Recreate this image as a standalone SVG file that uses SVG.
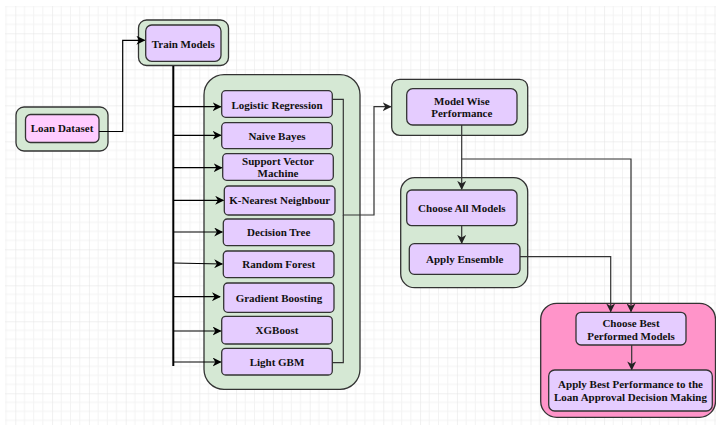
<svg xmlns="http://www.w3.org/2000/svg" width="716" height="425" viewBox="0 0 716 425">
<style>
.g{fill:#d5e8d4;stroke:#333;stroke-width:1.3}
.p{fill:#e5ccff;stroke:#333;stroke-width:1.3}
.k{fill:#ffccff;stroke:#333;stroke-width:1.3}
.m{fill:#ff94c9;stroke:#333;stroke-width:1.3}
text{font-family:"Liberation Serif","Times New Roman",serif;font-weight:bold;font-size:11px;fill:#111;text-anchor:middle}
.cb{fill:none;stroke:#000;stroke-width:1.2}
.cg{fill:none;stroke:#333;stroke-width:1.2}
</style>
<defs>
<pattern id="grid" patternUnits="userSpaceOnUse" x="15.3" y="33.3" width="36.8" height="36">
<path d="M9.2,0V36M18.4,0V36M27.6,0V36M0,9H36.8M0,18H36.8M0,27H36.8" stroke="#f3f3f3" stroke-width="1" fill="none"/>
<path d="M0,0V36M0,0H36.8" stroke="#e2e2e2" stroke-width="1" fill="none"/>
</pattern>
<marker id="ab" viewBox="0 0 10 10" refX="9" refY="5" markerWidth="9" markerHeight="9" markerUnits="userSpaceOnUse" orient="auto">
<path d="M0,0L10,5L0,10L3,5Z" fill="#000"/>
</marker>
<marker id="ag" viewBox="0 0 10 10" refX="9" refY="5" markerWidth="9" markerHeight="9" markerUnits="userSpaceOnUse" orient="auto">
<path d="M0,0L10,5L0,10L3,5Z" fill="#222"/>
</marker>
</defs>
<rect width="716" height="425" fill="#fff"/>
<rect x="5" y="6" width="711" height="419" fill="url(#grid)"/>

<g id="containers">
<rect class="g" x="204" y="74.7" width="156" height="314.6" rx="20"/>
<rect class="g" x="400.7" y="177.7" width="127" height="110" rx="14"/>
<rect class="m" x="540.7" y="303.3" width="174.8" height="114" rx="16"/>
</g>

<g id="loan-dataset">
<rect class="g" x="16" y="107" width="92" height="44" rx="8"/>
<rect class="k" x="25.5" y="114.5" width="73.5" height="28" rx="5"/>
<text x="62" y="132.3">Loan Dataset</text>
</g>
<g id="train-models">
<rect class="g" x="138.5" y="20" width="90" height="45.5" rx="8"/>
<rect class="p" x="145.7" y="25" width="75.3" height="36.3" rx="6"/>
<text x="183.3" y="47.7">Train Models</text>
</g>
<g id="logistic-regression">
<rect class="p" x="221.7" y="90.7" width="110.6" height="26.6" rx="4"/>
<text x="277" y="108.7">Logistic Regression</text>
</g>
<g id="naive-bayes">
<rect class="p" x="221.7" y="122.7" width="110.6" height="26" rx="4"/>
<text x="277" y="139.7">Naive Bayes</text>
</g>
<g id="svm">
<rect class="p" x="222.7" y="153.7" width="110.6" height="26.6" rx="4"/>
<text x="278" y="165.3">Support Vector</text>
<text x="278" y="177.3">Machine</text>
</g>
<g id="knn">
<rect class="p" x="224.3" y="186" width="110.7" height="29" rx="4"/>
<text x="279.7" y="204.3">K-Nearest Neighbour</text>
</g>
<g id="decision-tree">
<rect class="p" x="223.3" y="219" width="110.7" height="26.7" rx="4"/>
<text x="278.7" y="236">Decision Tree</text>
</g>
<g id="random-forest">
<rect class="p" x="223.3" y="251" width="110.7" height="26.7" rx="4"/>
<text x="278.7" y="268.3">Random Forest</text>
</g>
<g id="gradient-boosting">
<rect class="p" x="223.7" y="283" width="110.3" height="29.3" rx="4"/>
<text x="278.9" y="301.7">Gradient Boosting</text>
</g>
<g id="xgboost">
<rect class="p" x="221.7" y="316.3" width="110.6" height="27.7" rx="4"/>
<text x="277" y="334">XGBoost</text>
</g>
<g id="light-gbm">
<rect class="p" x="221.7" y="348.3" width="110.6" height="26.7" rx="4"/>
<text x="277" y="366">Light GBM</text>
</g>
<g id="model-wise-performance">
<rect class="g" x="391.7" y="79.3" width="136" height="56" rx="8"/>
<rect class="p" x="406.7" y="88.7" width="110.3" height="36.3" rx="6"/>
<text x="461.8" y="105">Model Wise</text>
<text x="461.8" y="117.3">Performance</text>
</g>
<g id="choose-all-models">
<rect class="p" x="406.7" y="190" width="110.3" height="35.7" rx="5"/>
<text x="461.8" y="211.7">Choose All Models</text>
</g>
<g id="apply-ensemble">
<rect class="p" x="409.3" y="243.7" width="110.7" height="30.6" rx="5"/>
<text x="464.7" y="263.3">Apply Ensemble</text>
</g>
<g id="choose-best">
<rect class="p" x="576" y="312.3" width="110" height="32.7" rx="5"/>
<text x="631" y="326.7">Choose Best</text>
<text x="631" y="340">Performed Models</text>
</g>
<g id="apply-best">
<rect class="p" x="548.7" y="370" width="163.6" height="41" rx="6"/>
<text x="630.5" y="388.3">Apply Best Performance to the</text>
<text x="630.5" y="401.3">Loan Approval Decision Making</text>
</g>

<g id="connectors">
<path class="cb" d="M99,131.5H122.7V40.3H144.5" marker-end="url(#ab)"/>
<path d="M173.3,66V366" stroke="#000" stroke-width="2" fill="none"/>
<path class="cb" d="M173.3,106.7H220.7" marker-end="url(#ab)"/>
<path class="cb" d="M173.3,135.3H220.7" marker-end="url(#ab)"/>
<path class="cb" d="M173.3,167.7H221.7" marker-end="url(#ab)"/>
<path class="cb" d="M173.3,200.3H223.3" marker-end="url(#ab)"/>
<path class="cb" d="M173.3,232H222.3" marker-end="url(#ab)"/>
<path class="cb" d="M173.3,263L222.3,264" marker-end="url(#ab)"/>
<path class="cb" d="M173.3,296.7H220" marker-end="url(#ab)"/>
<path class="cb" d="M173.3,331H220.7" marker-end="url(#ab)"/>
<path class="cb" d="M173.3,362H220.7" marker-end="url(#ab)"/>
<path class="cg" d="M332.3,99.3H343.3V215H374V106.7H390.7" marker-end="url(#ag)"/>
<path class="cg" d="M332.3,362.7H343.3V215"/>
<path class="cg" d="M461.7,125V189" marker-end="url(#ag)"/>
<path class="cg" d="M461.7,159H631V311.5" marker-end="url(#ag)"/>
<path class="cg" d="M461.7,225.7V243" marker-end="url(#ag)"/>
<path class="cg" d="M520,256.7H610.7V311.5" marker-end="url(#ag)"/>
<path class="cg" d="M631.7,345V369.5" marker-end="url(#ag)"/>
</g>
</svg>
